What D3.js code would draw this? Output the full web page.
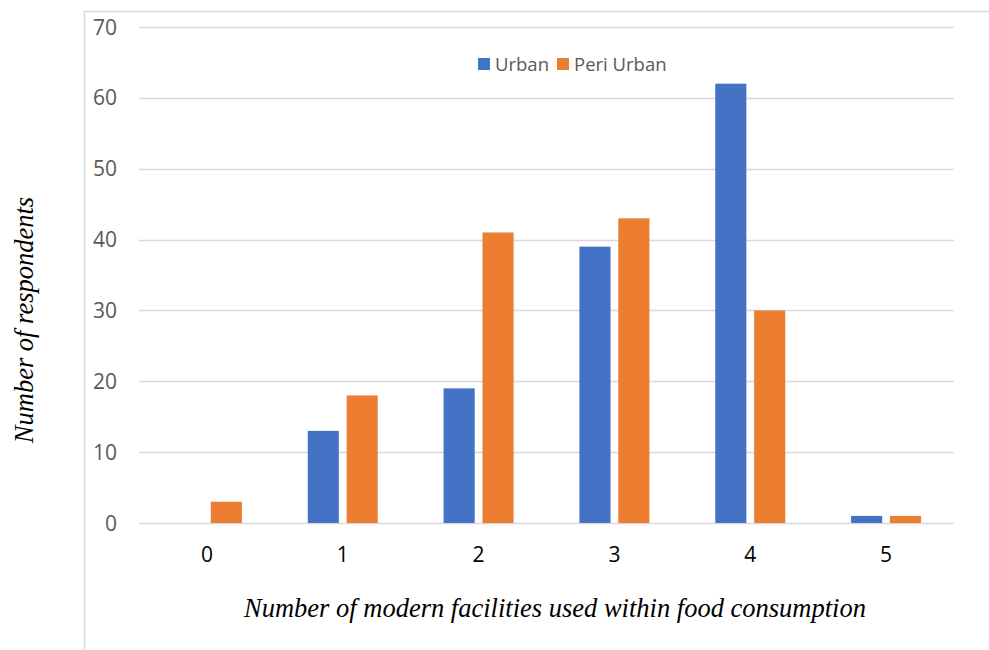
<!DOCTYPE html>
<html>
<head>
<meta charset="utf-8">
<script src="https://cdn.jsdelivr.net/npm/d3@7"></script>
<style>
  body { margin: 0; background: #fff; }
  svg { display: block; }
</style>
</head>
<body>
<svg id="chart"></svg>
<script>
const categories = ['0', '1', '2', '3', '4', '5'];
const seriesNames = ['Urban', 'Peri Urban'];
const urban = [0, 13, 19, 39, 62, 1];
const periUrban = [3, 18, 41, 43, 30, 1];
const yTicks = [0, 10, 20, 30, 40, 50, 60, 70];

const width = 989, height = 650;
const colors = d3.scaleOrdinal(seriesNames, ['#4472c4', '#ed7d31']);
const margin = {left: 139, right: 35, top: 27, bottom: 127};

var svg = d3.select('#chart')
    .attr('width', width)
    .attr('height', height);

// chart border (only left and top visible)
svg.append('rect')
    .attr('x', 84.5).attr('y', 11.5)
    .attr('width', 1000).attr('height', 1000)
    .attr('fill', 'none')
    .attr('stroke', '#d9d9d9')
    .attr('stroke-width', 1.5);

var x0 = d3.scaleBand()
    .domain(categories)
    .range([margin.left, width - margin.right]);

var x1 = d3.scaleBand()
    .domain(seriesNames)
    .range([0, 70])
    .paddingInner(0.2);

var y = d3.scaleLinear()
    .domain([0, 70])
    .range([height - margin.bottom, margin.top]);

// gridlines
svg.append('g')
  .selectAll('line')
  .data(yTicks)
  .enter().append('line')
    .attr('x1', margin.left)
    .attr('x2', width - margin.right)
    .attr('y1', d => Math.round(y(d)) + 0.5)
    .attr('y2', d => Math.round(y(d)) + 0.5)
    .attr('stroke', '#d9d9d9')
    .attr('stroke-width', 1.5);

// y tick labels
svg.append('g')
  .selectAll('text')
  .data(yTicks)
  .enter().append('text')
    .attr('x', 117)
    .attr('y', d => y(d))
    .attr('dy', '0.36em')
    .attr('text-anchor', 'end')
    .attr('fill', '#595959')
    .style('font', '21px "Open Sans", sans-serif')
    .text(d => d);

// bars
var rows = categories.map((c, i) => ({cat: c, values: [
  {key: 'Urban', value: urban[i]},
  {key: 'Peri Urban', value: periUrban[i]}
]}));

var group = svg.append('g')
  .selectAll('g')
  .data(rows)
  .enter().append('g')
    .attr('transform', d => `translate(${x0(d.cat) + x0.bandwidth() / 2 - 35},0)`);

group.selectAll('rect')
  .data(d => d.values.filter(v => v.value > 0))
  .enter().append('rect')
    .attr('x', d => x1(d.key))
    .attr('y', d => y(d.value))
    .attr('width', x1.bandwidth())
    .attr('height', d => y(0) - y(d.value))
    .attr('fill', d => colors(d.key));

// x tick labels
svg.append('g')
  .selectAll('text')
  .data(categories)
  .enter().append('text')
    .attr('x', d => x0(d) + x0.bandwidth() / 2)
    .attr('y', 562)
    .attr('text-anchor', 'middle')
    .attr('fill', '#000')
    .style('font', '21px "Open Sans", sans-serif')
    .text(d => d);

// axis titles
svg.append('text')
    .attr('x', 555)
    .attr('y', 617)
    .attr('text-anchor', 'middle')
    .style('font', 'italic 26.5px "Liberation Serif", serif')
    .text('Number of modern facilities used within food consumption');

svg.append('text')
    .attr('transform', 'translate(33,320) rotate(-90)')
    .attr('text-anchor', 'middle')
    .style('font', 'italic 26.5px "Liberation Serif", serif')
    .text('Number of respondents');

// legend
var legend = svg.append('g').attr('transform', 'translate(478,58)');
var lx = [0, 79];
var item = legend.selectAll('g')
  .data(seriesNames)
  .enter().append('g')
    .attr('transform', (d, i) => `translate(${lx[i]},0)`);
item.append('rect')
    .attr('width', 12).attr('height', 12)
    .attr('fill', d => colors(d));
item.append('text')
    .attr('x', 17)
    .attr('y', 6)
    .attr('dy', '0.36em')
    .attr('fill', '#595959')
    .style('font', '18.5px "Open Sans", sans-serif')
    .text(d => d);
</script>
</body>
</html>
